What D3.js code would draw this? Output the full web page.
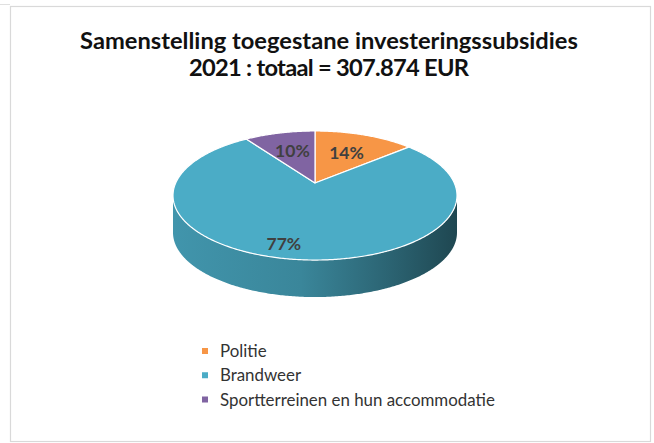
<!DOCTYPE html>
<html><head><meta charset="utf-8">
<script src="https://cdn.jsdelivr.net/npm/d3@7"></script>
<style>html,body{margin:0;padding:0;background:#fff;}svg{display:block;}</style>
</head><body>
<svg id="c" width="654" height="443"></svg>
<script>
// ---- data ----
const titleLines = ["Samenstelling toegestane investeringssubsidies", "2021 : totaal = 307.874 EUR"];
const categories = ["Politie", "Brandweer", "Sportterreinen en hun accommodatie"];
const values = [42180, 235850, 29844];
const colors = ["#F79646", "#4BACC6", "#8064A2"];

// ---- layout ----
const W = 654, H = 443;
const svg = d3.select("#c");
const FONT = "Lato, 'Open Sans', sans-serif";

// border
svg.append("rect").attr("x", 10.5).attr("y", 6.5).attr("width", 640).attr("height", 435)
  .attr("fill", "#fff").attr("stroke", "#d9d9d9").attr("stroke-width", 1.2);
svg.append("line").attr("x1", 0).attr("x2", 10).attr("y1", 4.5).attr("y2", 4.5)
  .attr("stroke", "#e0e0e0").attr("stroke-width", 1);

// helper to fit a text's width
function fit(sel, target) {
  const w = sel.node().getComputedTextLength();
  const fs = parseFloat(sel.attr("font-size"));
  sel.attr("font-size", fs * target / w);
}

// title
const tCx = 329;
const t1 = svg.append("text").attr("x", tCx).attr("y", 48.5).attr("text-anchor", "middle")
  .attr("font-family", FONT).attr("font-weight", 700).attr("font-size", 20).attr("fill", "#111")
  .text(titleLines[0]);
fit(t1, 498);
const fsTitle = +t1.attr("font-size");
svg.append("text").attr("x", tCx).attr("y", 75.5).attr("text-anchor", "middle")
  .attr("font-family", FONT).attr("font-weight", 700).attr("font-size", fsTitle).attr("fill", "#111")
  .attr("textLength", 280).attr("lengthAdjust", "spacing")
  .text(titleLines[1]);

// ---- 3D pie ----
const cx = 315, cy = 183, a = 139.3, b = 62.1, p = 0.194, depth = 37;
function proj(r, th, dy = 0) {
  const u = r * Math.sin(th), v = -r * Math.cos(th);
  const den = 1 - p * v;
  return [cx + a * u / den, cy + b * v / den + dy];
}
function arcPts(t0, t1, r, dy) {
  const n = Math.max(2, Math.ceil(Math.abs(t1 - t0) / 0.01));
  const pts = [];
  for (let i = 0; i <= n; i++) pts.push(proj(r, t0 + (t1 - t0) * i / n, dy));
  return pts;
}
const pie = d3.pie().sort(null).value(d => d).startAngle(0).endAngle(2 * Math.PI);
const arcs = pie(values);
const total = d3.sum(values);

const defs = svg.append("defs");
const thR = Math.acos(-p), thL = 2 * Math.PI - Math.acos(-p);
const xL = proj(1, thL)[0], xR = proj(1, thR)[0];

const line = d3.line();
const gSide = svg.append("g"), gTop = svg.append("g"), gLab = svg.append("g");

arcs.forEach((d, i) => {
  const base = d3.color(colors[i]);
  const gid = "sg" + i;
  const g = defs.append("linearGradient").attr("id", gid).attr("gradientUnits", "userSpaceOnUse")
    .attr("x1", xL).attr("x2", xR).attr("y1", 0).attr("y2", 0);
  [[0, 0.4], [0.45, 0.7], [0.75, 1.5], [1, 2.5]].forEach(([o, k]) =>
    g.append("stop").attr("offset", o).attr("stop-color", base.darker(k).formatHex()));
  const s = Math.max(d.startAngle, thR), e = Math.min(d.endAngle, thL);
  if (e > s) {
    const top = arcPts(s, e, 1, 0);
    const bot = arcPts(e, s, 1, depth);
    gSide.append("path").attr("d", line(top.concat(bot)) + "Z").attr("fill", "url(#" + gid + ")");
  }
});

arcs.forEach((d, i) => {
  const pts = [proj(0, 0)].concat(arcPts(d.startAngle, d.endAngle, 1, 0));
  gTop.append("path").attr("d", line(pts) + "Z").attr("fill", colors[i])
    .attr("stroke", "#ffffff").attr("stroke-width", 1.2).attr("stroke-linejoin", "round");
});

arcs.forEach((d, i) => {
  const frac = d.value / total;
  const big = frac > 0.5;
  const mid = (d.startAngle + d.endAngle) / 2 + (big ? 0.1 : 0);
  const r = big ? 0.84 : 0.6;
  const [x, y] = proj(r, mid);
  gLab.append("text").attr("x", x).attr("y", y).attr("dy", "0.36em").attr("text-anchor", "middle")
    .attr("font-family", FONT).attr("font-weight", 700).attr("font-size", 17.5).attr("fill", "#404040")
    .text(Math.round(frac * 100) + "%");
});

// ---- legend ----
const legY = d3.scalePoint().domain(categories).range([357, 405.5]);
const leg = svg.append("g");
let fsLeg = 16;
categories.forEach((c, i) => {
  const y = legY(c);
  leg.append("rect").attr("x", 202).attr("y", y - 9).attr("width", 6).attr("height", 6).attr("fill", colors[i]);
  const t = leg.append("text").attr("x", 220).attr("y", y).attr("font-family", FONT)
    .attr("font-size", fsLeg).attr("fill", "#333").text(c);
  if (i === categories.length - 1) {
    fit(t, 275);
    fsLeg = +t.attr("font-size");
    leg.selectAll("text").attr("font-size", fsLeg);
  }
});
</script>
</body></html>
